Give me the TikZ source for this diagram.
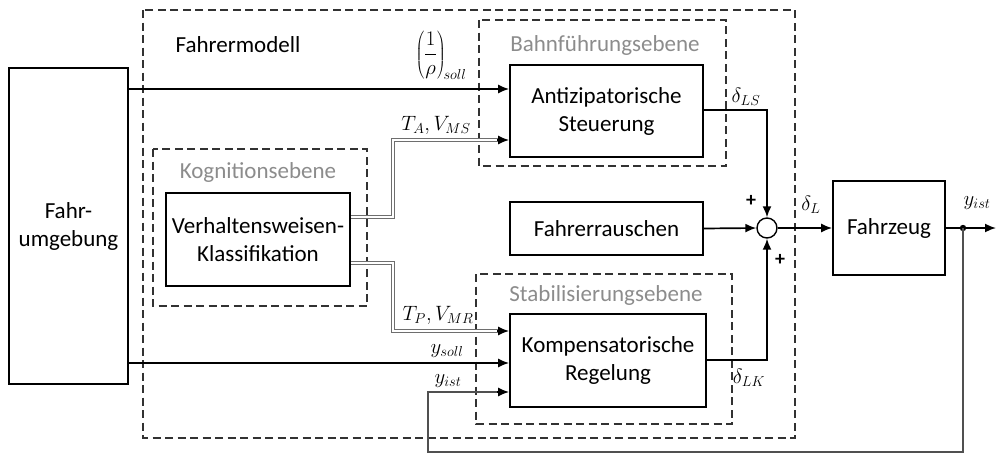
\documentclass[tikz,border=0pt]{standalone}
\usepackage{fontspec}
\setmainfont{Carlito}
\usetikzlibrary{arrows.meta,calc}
\definecolor{lvlgray}{RGB}{140,140,140}
\definecolor{dblgray}{RGB}{110,110,110}
\definecolor{fbgray}{RGB}{80,80,80}
\definecolor{dashcol}{RGB}{50,50,50}
\begin{document}
\begin{tikzpicture}[x=1pt,y=-1pt,
  blk/.style={draw,line width=1.7pt,align=center,inner sep=0pt,
    font=\fontsize{23}{28}\selectfont},
  grp/.style={draw=dashcol,line width=1.3pt,dash pattern=on 8pt off 4.5pt},
  lvl/.style={text=lvlgray,font=\fontsize{23}{27}\selectfont,inner sep=0pt},
  con/.style={line width=1.7pt},
  arr/.style={line width=1.7pt,-{Latex[length=11pt,width=9pt]}},
  dbl/.style={draw=dblgray,line width=1.1pt,double=white,double distance=1.4pt},
  fb/.style={draw=fbgray,line width=1.3pt},
  sig/.style={font=\fontsize{21}{25}\selectfont,inner sep=0pt},
  pm/.style={font=\fontsize{20}{24}\selectfont\bfseries,inner sep=0pt}
]
\path[use as bounding box] (0,0) rectangle (996,455);

% group frames
\draw[grp] (143,10) rectangle (795,438);
\draw[grp] (479,20) rectangle (726,166);
\draw[grp] (153,149) rectangle (367,306);
\draw[grp] (476,274) rectangle (732,424);

\node[inner sep=0pt,font=\fontsize{23}{27}\selectfont] (fm) at (238,45) {Fahrermodell};
\node[lvl] (lb) at (605,45) {Bahnführungsebene};
\node[lvl] (lk) at (258,172) {Kognitionsebene};
\node[lvl] (ls) at (606,295) {Stabilisierungsebene};

% blocks
\node[blk,minimum width=119pt,minimum height=316pt] (env) at (68.5,226) {Fahr-\\umgebung};
\node[blk,minimum width=193pt,minimum height=92pt] (ant) at (606.5,111) {Antizipatorische\\Steuerung};
\node[blk,minimum width=184pt,minimum height=93pt] (ver) at (258,239.5) {Verhaltensweisen-\\Klassifikation};
\node[blk,minimum width=193pt,minimum height=53pt] (rau) at (606.5,228.5) {Fahrerrauschen};
\node[blk,minimum width=196pt,minimum height=93pt] (kom) at (608,360.5) {Kompensatorische\\Regelung};
\node[blk,minimum width=112pt,minimum height=94pt] (fz) at (889,228) {Fahrzeug};
\node[draw,circle,line width=1.4pt,minimum size=20pt,inner sep=0pt,fill=white] (sum) at (767,228) {};

% junction and output end
\coordinate (br) at (963,228);
\coordinate (out) at (996,228);
\coordinate (fbl) at (428,452);

% signals from the environment
\draw[arr] (env.east |- 0,89) -- (ant.west |- 0,89);
\draw[arr] (env.east |- 0,363) -- (kom.west |- 0,363);

% classifier outputs (double lines)
\draw[dbl] (ver.east |- 0,217) -- (393,217) -- (393,140) -- ($(ant.west |- 0,140)+(-9,0)$);
\draw[arr] ($(ant.west |- 0,140)+(-12,0)$) -- (ant.west |- 0,140);
\draw[dbl] (ver.east |- 0,263) -- (393,263) -- (393,331) -- ($(kom.west |- 0,331)+(-9,0)$);
\draw[arr] ($(kom.west |- 0,331)+(-12,0)$) -- (kom.west |- 0,331);

% summation
\draw[arr] (ant.east |- 0,110) -- (sum.north |- 0,110) -- (sum.north);
\draw[arr] (rau.east) -- (sum.west);
\draw[arr] (kom.east |- 0,360) -- (sum.south |- 0,360) -- (sum.south);
\draw[arr] (sum.east) -- (fz.west);

% output and feedback
\draw[arr] (fz.east) -- (out);
\fill (br) circle (3.2pt);
\draw[fb] (br) -- (br |- fbl) -- (fbl) -- (fbl |- 0,392) -- ($(kom.west |- 0,392)+(-9,0)$);
\draw[arr] ($(kom.west |- 0,392)+(-12,0)$) -- (kom.west |- 0,392);

% labels
\node[sig] (l1) at (441,55) {$\displaystyle\left(\frac{1}{\rho}\right)_{\!soll}$};
\node[sig] (l2) at (436,125) {$T_A,V_{MS}$};
\node[sig] (l3) at (438,315) {$T_P,V_{MR}$};
\node[sig] (l4) at (447,351) {$y_{soll}$};
\node[sig] (l5) at (448,381) {$y_{ist}$};
\node[sig] (l6) at (746,97) {$\delta_{LS}$};
\node[sig] (l7) at (749,378) {$\delta_{LK}$};
\node[sig] (l8) at (811,205) {$\delta_{L}$};
\node[sig] (l9) at (977,203) {$y_{ist}$};
\node[pm] (p1) at (751,201) {+};
\node[pm] (p2) at (780,260) {+};
\end{tikzpicture}
\end{document}
